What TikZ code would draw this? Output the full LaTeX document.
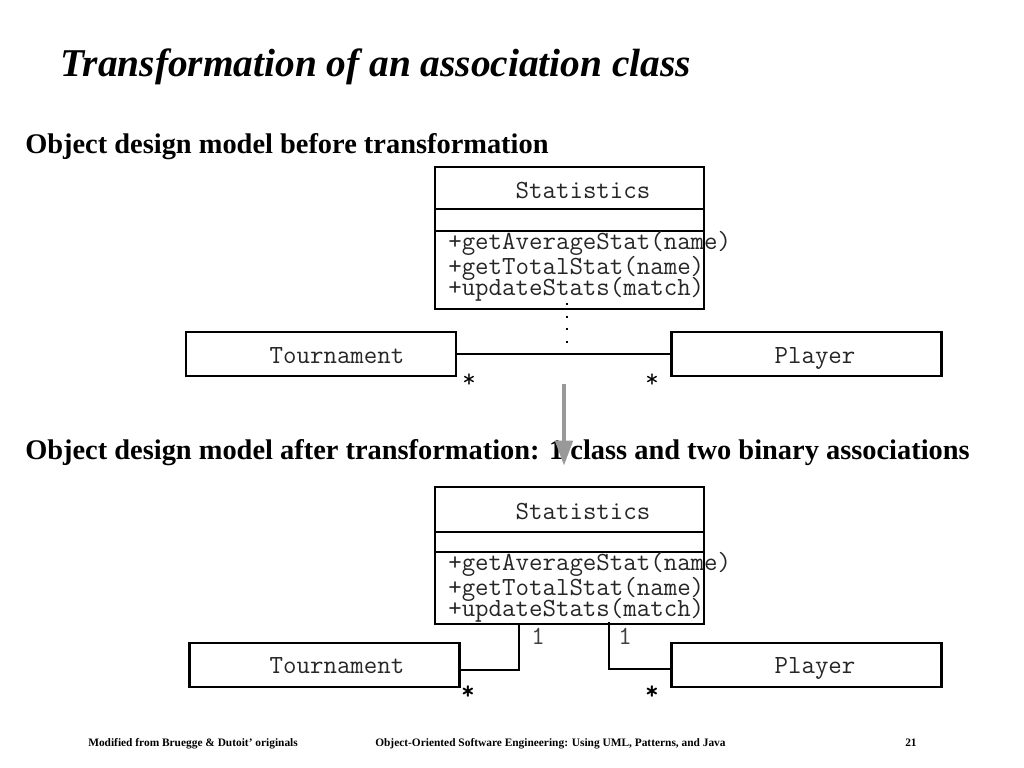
\documentclass[tikz,border=0pt]{standalone}
\usepackage{fontspec}
\setmainfont{Liberation Serif}
\usetikzlibrary{arrows.meta}

\begin{document}
\begin{tikzpicture}[x=0.025cm, y=-0.025cm,
    classbox/.style={draw, line width=1.6pt, minimum width=6.725cm, inner sep=0pt},
    objbox/.style={draw, line width=1.6pt, minimum width=6.75cm, minimum height=1.1cm, inner sep=0pt},
    mono/.style={font=\fontsize{18.6}{20}\selectfont\ttfamily, inner sep=0pt, text=black!85},
    mult/.style={font=\fontsize{18.6}{20}\selectfont\ttfamily, inner sep=0pt},
    assoc/.style={line width=1.4pt},
    heading/.style={anchor=base west, inner sep=0pt, font=\fontsize{20.2}{24}\selectfont\bfseries},
    foot/.style={anchor=base west, inner sep=0pt, font=\fontsize{8.1}{10}\selectfont\bfseries}]

    \useasboundingbox (0,0) rectangle (1024,768);

    \node[anchor=base west, inner sep=0pt, font=\fontsize{28}{32}\selectfont\bfseries\itshape] (title) at (60,77) {Transformation of an association class};
    \node[heading] (before) at (25,153) {Object design model before transformation};
    \node[heading] (after) at (25,459) {Object design model after transformation: 1 class and two binary associations};

    % before transformation
    \node[classbox, minimum height=1.05cm] (statname1) at (569.5,188) {};
    \node[classbox, minimum height=0.55cm] (statattr1) at (569.5,220) {};
    \node[classbox, minimum height=1.95cm] (statop1) at (569.5,270) {};
    \node[mono, anchor=base] (stattext1) at (583,198) {Statistics};
    \node[mono, anchor=base west] (opa1) at (448,249) {+getAverageStat(name)};
    \node[mono, anchor=base west] (opb1) at (448,274) {+getTotalStat(name)};
    \node[mono, anchor=base west] (opc1) at (448,295) {+updateStats(match)};

    \node[objbox] (tour1) at (321,354) {};
    \node[objbox] (play1) at (806.5,354) {};
    \node[mono, anchor=base] (tourtext1) at (337,363) {Tournament};
    \node[mono, anchor=base] (playtext1) at (815,363) {Player};

    \draw[assoc] (tour1.east) -- (play1.west);
    \coordinate (dot1) at (567,303);
    \draw[line width=1.5pt, dash pattern=on 1.5pt off 7.5pt] (dot1) -- (dot1 |- tour1.east);
    \node[mult] (m1) at (469,381) {*};
    \node[mult] (m2) at (652,381) {*};

    % transformation arrow
    \coordinate (arrtop) at (564,384);
    \coordinate (arrtip) at (564,466);
    \draw[line width=3.5pt, gray!80, -{Triangle[width=12pt, length=18pt]}] (arrtop) -- (arrtip);

    % after transformation
    \node[classbox, minimum height=1.125cm] (statname2) at (569.5,509.5) {};
    \node[classbox, minimum height=0.5cm] (statattr2) at (569.5,542) {};
    \node[classbox, minimum height=1.8cm] (statop2) at (569.5,588) {};
    \node[mono, anchor=base] (stattext2) at (583,519) {Statistics};
    \node[mono, anchor=base west] (opa2) at (448,570) {+getAverageStat(name)};
    \node[mono, anchor=base west] (opb2) at (448,595) {+getTotalStat(name)};
    \node[mono, anchor=base west] (opc2) at (448,616) {+updateStats(match)};

    \node[objbox] (tour2) at (324.5,665) {};
    \node[objbox] (play2) at (806.5,665) {};
    \node[mono, anchor=base] (tourtext2) at (337,673) {Tournament};
    \node[mono, anchor=base] (playtext2) at (815,673) {Player};

    \coordinate (end1) at (519,624);
    \coordinate (end2) at (609,622);
    \draw[assoc] (end1) |- ([yshift=-3.5pt]tour2.east);
    \draw[assoc] (end2) |- ([yshift=-3pt]play2.west);
    \node[mult, text=black!75] (one1) at (538,636) {1};
    \node[mult, text=black!75] (one2) at (625,636) {1};
    \node[mult, font=\fontsize{18.6}{20}\selectfont\ttfamily\bfseries] (m3) at (468,693) {*};
    \node[mult, font=\fontsize{18.6}{20}\selectfont\ttfamily\bfseries] (m4) at (652,693) {*};

    % footer
    \node[foot] (foota) at (88,746) {Modified from Bruegge \& Dutoit’ originals};
    \node[foot] (footb) at (375,746) {Object-Oriented Software Engineering: Using UML, Patterns, and Java};
    \node[foot] (footc) at (905,746) {21};

\end{tikzpicture}
\end{document}
